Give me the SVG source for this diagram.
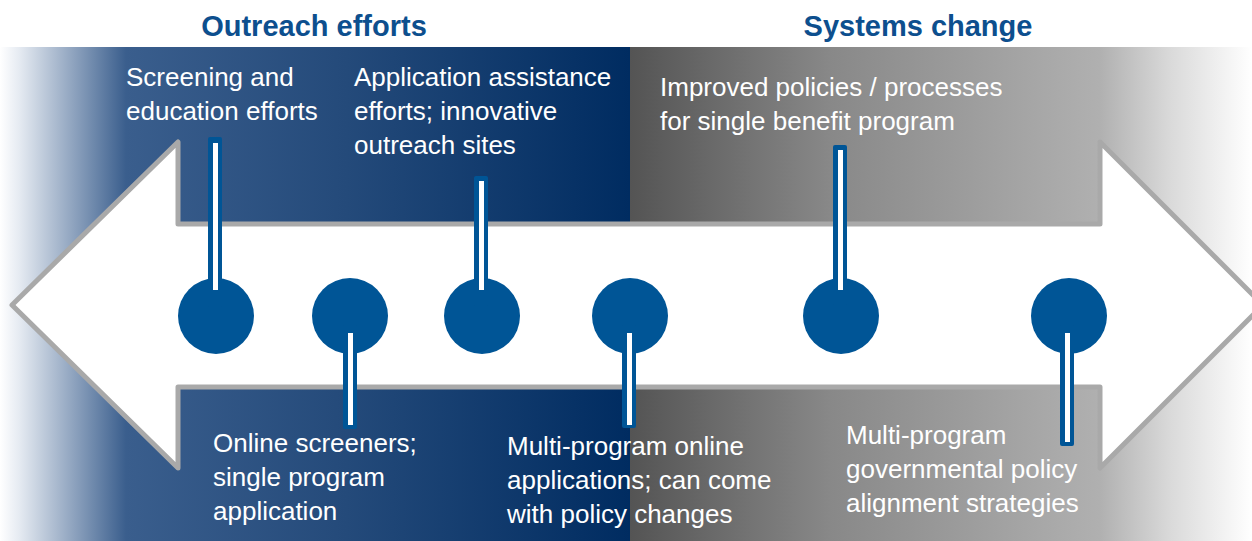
<svg xmlns="http://www.w3.org/2000/svg" width="1252" height="541" viewBox="0 0 1252 541">
  <style>
    .title { font-family: "Liberation Sans", Arial, sans-serif; font-weight: bold; font-size: 29px; fill: #0d4f8e; text-anchor: middle; }
    .label { font-family: "Liberation Sans", Arial, sans-serif; font-size: 26px; fill: #ffffff; }
    .dot { fill: #005596; }
    .stem { fill: #005596; }
    .stemline { fill: #ffffff; }
    .arrow { fill: #ffffff; stroke: #a9a9a9; stroke-width: 5; stroke-linejoin: round; }
  </style>
  <defs>
    <linearGradient id="blueGrad" gradientUnits="userSpaceOnUse" x1="0" y1="0" x2="630" y2="0">
      <stop offset="0" stop-color="#ffffff"/>
      <stop offset="0.03" stop-color="#e6ebf2"/>
      <stop offset="0.2" stop-color="#3a5e8d"/>
      <stop offset="0.55" stop-color="#244a7a"/>
      <stop offset="1" stop-color="#002c61"/>
    </linearGradient>
    <linearGradient id="grayGrad" gradientUnits="userSpaceOnUse" x1="630" y1="0" x2="1252" y2="0">
      <stop offset="0" stop-color="#545454"/>
      <stop offset="0.32" stop-color="#888888"/>
      <stop offset="0.755" stop-color="#b0b0b0"/>
      <stop offset="0.87" stop-color="#dadada"/>
      <stop offset="1" stop-color="#ffffff"/>
    </linearGradient>
  </defs>

  <g id="background">
    <rect x="0" y="47" width="630" height="494" fill="url(#blueGrad)"/>
    <rect x="630" y="47" width="622" height="494" fill="url(#grayGrad)"/>
  </g>

  <g id="titles">
    <text class="title" x="314" y="36">Outreach efforts</text>
    <text class="title" x="918" y="36">Systems change</text>
  </g>

  <g id="arrow">
    <polygon class="arrow" points="12,305 178,142 178,224 1100,224 1100,142 1263,305 1100,468 1100,387 178,387 178,468"/>
  </g>

  <g id="node1">
    <circle class="dot" cx="216" cy="316" r="38"/>
    <text class="label" x="126" y="86">Screening and</text>
    <text class="label" x="126" y="120">education efforts</text>
  </g>
  <g id="node2">
    <circle class="dot" cx="350" cy="316" r="38"/>
    <text class="label" x="213" y="452">Online screeners;</text>
    <text class="label" x="213" y="486">single program</text>
    <text class="label" x="213" y="520">application</text>
  </g>
  <g id="node3">
    <circle class="dot" cx="482" cy="316" r="38"/>
    <text class="label" x="354" y="86">Application assistance</text>
    <text class="label" x="354" y="120">efforts; innovative</text>
    <text class="label" x="354" y="154">outreach sites</text>
  </g>
  <g id="node4">
    <circle class="dot" cx="630" cy="316" r="38"/>
    <text class="label" x="507" y="455">Multi-program online</text>
    <text class="label" x="507" y="489">applications; can come</text>
    <text class="label" x="507" y="523">with policy changes</text>
  </g>
  <g id="node5">
    <circle class="dot" cx="841" cy="316" r="38"/>
    <text class="label" x="660" y="96">Improved policies / processes</text>
    <text class="label" x="660" y="130">for single benefit program</text>
  </g>
  <g id="node6">
    <circle class="dot" cx="1069" cy="316" r="38"/>
    <text class="label" x="846" y="444">Multi-program</text>
    <text class="label" x="846" y="478">governmental policy</text>
    <text class="label" x="846" y="512">alignment strategies</text>
  </g>

  <g id="connectors">
    <rect class="stem" x="208" y="137" width="14" height="170" rx="2"/>
    <rect class="stemline" x="213" y="143" width="5" height="147"/>

    <rect class="stem" x="474" y="176" width="14" height="130" rx="2"/>
    <rect class="stemline" x="479" y="181" width="5" height="109"/>

    <rect class="stem" x="833" y="145" width="14" height="160" rx="2"/>
    <rect class="stemline" x="838" y="150" width="5" height="140"/>

    <rect class="stem" x="343" y="325" width="14" height="104" rx="2"/>
    <rect class="stemline" x="348" y="333" width="5" height="92"/>

    <rect class="stem" x="622" y="325" width="14" height="103" rx="2"/>
    <rect class="stemline" x="627" y="333" width="5" height="92"/>

    <rect class="stem" x="1060" y="325" width="14" height="121" rx="2"/>
    <rect class="stemline" x="1065" y="333" width="5" height="109"/>
  </g>
</svg>
